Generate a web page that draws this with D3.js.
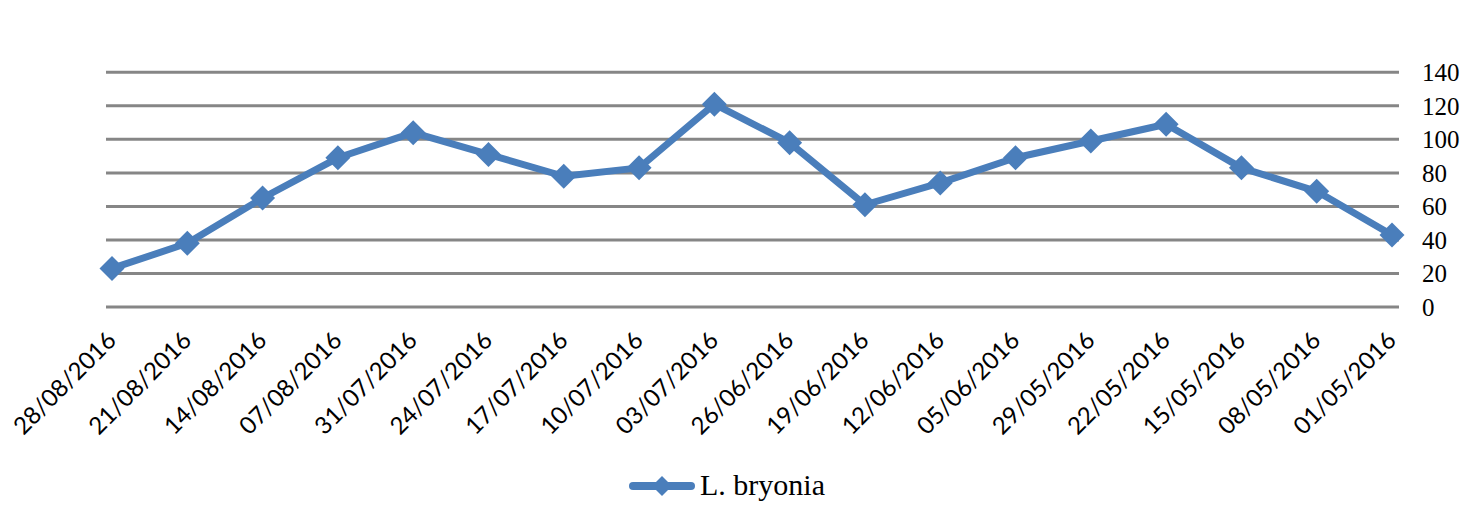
<!DOCTYPE html>
<html>
<head>
<meta charset="utf-8">
<script src="https://cdn.jsdelivr.net/npm/d3@7"></script>
<style>
  body { margin: 0; background: #fff; }
</style>
</head>
<body>
<div id="chart"></div>
<script>
var dates = ["28/08/2016","21/08/2016","14/08/2016","07/08/2016","31/07/2016","24/07/2016",
             "17/07/2016","10/07/2016","03/07/2016","26/06/2016","19/06/2016","12/06/2016",
             "05/06/2016","29/05/2016","22/05/2016","15/05/2016","08/05/2016","01/05/2016"];
var counts = [23, 38, 65, 89, 104, 91, 78, 83, 121, 98, 61, 74, 89, 99, 109, 83, 69, 43];
var yTicks = [0, 20, 40, 60, 80, 100, 120, 140];
var seriesName = "L. bryonia";

function init(){
    var w = 1479, h = 511;
    var blue = "#4a7ebb";

    var svg = d3.select("#chart")
                .append("svg")
                .attr("width", w)
                .attr("height", h);

    var x = d3.scalePoint()
              .domain(dates)
              .range([112, 1392]);

    var y = d3.scaleLinear()
              .domain([0, 140])
              .range([307, 72.3]);

    // grid lines
    svg.selectAll("line.grid")
       .data(yTicks)
       .enter()
       .append("line")
       .attr("class", "grid")
       .attr("x1", 106)
       .attr("x2", 1399)
       .attr("y1", function(d){ return y(d); })
       .attr("y2", function(d){ return y(d); })
       .attr("stroke", "#868686")
       .attr("stroke-width", 3);

    // right axis labels
    var yAxis = d3.axisRight(y).tickValues(yTicks).tickSize(0).tickPadding(0);
    var gy = svg.append("g")
                .attr("transform", "translate(1422,0)")
                .call(yAxis);
    gy.select(".domain").remove();
    gy.selectAll("text")
      .attr("font-family", "'Liberation Serif', serif")
      .attr("font-size", 25)
      .attr("fill", "#000")
      .attr("dy", "0.34em");

    // bottom axis labels, rotated
    var xAxis = d3.axisBottom(x).tickSize(0).tickPadding(0);
    var gx = svg.append("g")
                .attr("transform", "translate(0,342)")
                .call(xAxis);
    gx.select(".domain").remove();
    gx.selectAll("text")
      .attr("font-family", "Lato, 'Open Sans', sans-serif")
      .attr("font-size", 24)
      .attr("fill", "#000")
      .attr("text-anchor", "end")
      .attr("dy", 0)
      .attr("y", 0)
      .attr("transform", "translate(5,0) rotate(-45)");

    // line
    var line = d3.line()
                 .x(function(d, i){ return x(dates[i]); })
                 .y(function(d){ return y(d); });

    svg.append("path")
       .datum(counts)
       .attr("d", line)
       .attr("fill", "none")
       .attr("stroke", blue)
       .attr("stroke-width", 7)
       .attr("stroke-linejoin", "round");

    var diamond = "M0,-12.5L12.5,0L0,12.5L-12.5,0Z";

    svg.selectAll("path.marker")
       .data(counts)
       .enter()
       .append("path")
       .attr("class", "marker")
       .attr("d", diamond)
       .attr("fill", blue)
       .attr("transform", function(d, i){
           return "translate(" + x(dates[i]) + "," + y(d) + ")";
       });

    // legend
    var lg = svg.append("g");
    lg.append("line")
      .attr("x1", 633).attr("x2", 691)
      .attr("y1", 486).attr("y2", 486)
      .attr("stroke", blue)
      .attr("stroke-width", 8)
      .attr("stroke-linecap", "round");
    lg.append("path")
      .attr("d", "M0,-10L10,0L0,10L-10,0Z")
      .attr("fill", blue)
      .attr("transform", "translate(662,486)");
    lg.append("text")
      .attr("x", 700)
      .attr("y", 495)
      .attr("font-family", "'Liberation Serif', serif")
      .attr("font-size", 30)
      .attr("fill", "#000")
      .text(seriesName);
}

window.onload = init;
</script>
</body>
</html>
